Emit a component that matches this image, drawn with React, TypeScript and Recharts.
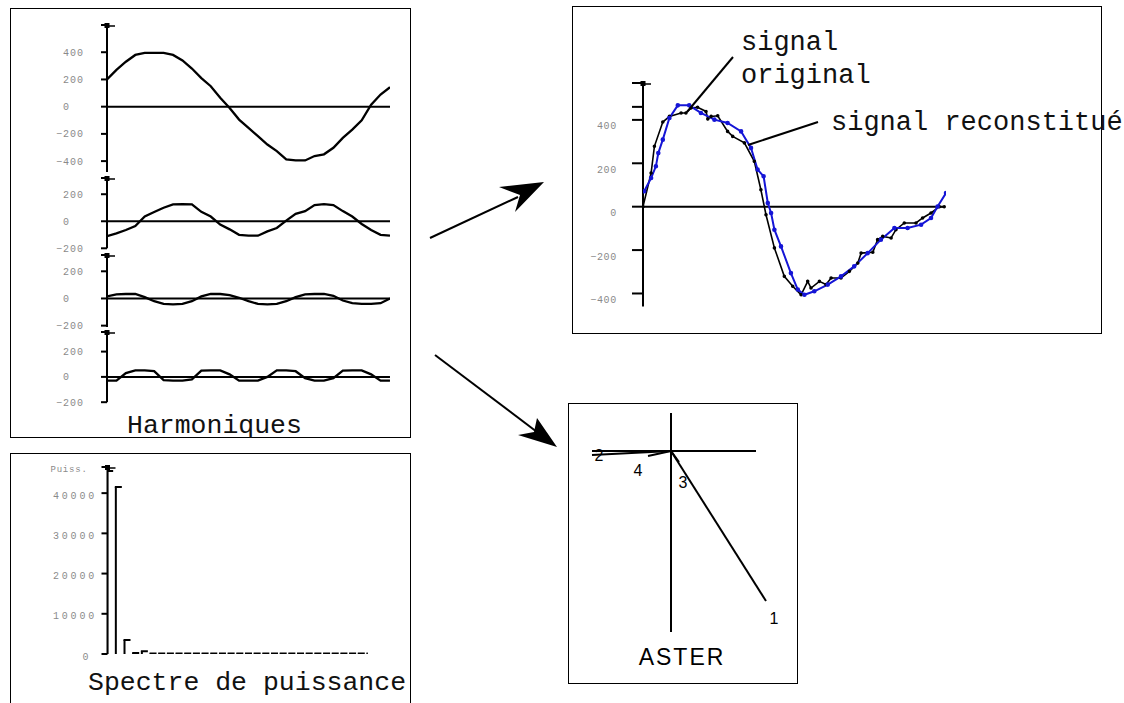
import React from "react";
import { LineChart, Line, XAxis, YAxis, ReferenceLine, BarChart, Bar } from "recharts";

// harmonics: 31 samples over one period of the fundamental
const sampleIdx = [0, 1, 2, 3, 4, 5, 6, 7, 8, 9, 10, 11, 12, 13, 14, 15, 16, 17, 18, 19, 20, 21, 22, 23, 24, 25, 26, 27, 28, 29, 30];
const harm1 = [200, 270, 330, 380, 395, 395, 395, 380, 340, 280, 210, 150, 65, -10, -95, -155, -217, -278, -327, -388, -395, -395, -363, -350, -302, -229, -168, -100, 15, 89, 143];
const harm2 = [-110, -90, -65, -35, 35, 68, 100, 125, 127, 125, 70, 35, -25, -60, -100, -107, -107, -75, -50, 5, 55, 75, 120, 127, 120, 75, 35, -20, -65, -100, -107];
const harm3 = [15, 30, 33, 33, 10, -20, -40, -43, -40, -20, 15, 33, 33, 25, 5, -20, -40, -43, -40, -20, 10, 30, 33, 33, 20, -15, -35, -40, -40, -35, 0];
const harm4 = [-30, -30, 30, 52, 52, 45, -25, -30, -30, -20, 50, 52, 52, 20, -30, -30, -30, 0, 52, 52, 45, -10, -30, -30, -10, 50, 52, 52, 20, -30, -30];

// power spectrum
const specBins = [0, 1, 2, 3, 4, 5, 6, 7, 8, 9, 10, 11, 12, 13, 14, 15, 16, 17, 18, 19, 20, 21, 22, 23, 24, 25, 26, 27, 28, 29, 30];
const specPower = [45500, 41500, 3500, 250, 700, 150, 120, 100, 100, 100, 100, 100, 100, 100, 100, 100, 100, 100, 100, 100, 100, 100, 100, 100, 100, 100, 100, 100, 100, 100, 100];
const specTicks = [0, 10000, 20000, 30000, 40000, 46500];

// original vs reconstructed signal
const origT = [0, 2.7, 3.8, 6.6, 8.8, 12.7, 14.3, 16, 18.2, 21, 21.6, 22.7, 24.9, 28.2, 29.9, 33.8, 37.1, 39.3, 41, 43.8, 47.1, 49.9, 52.7, 54.9, 56, 58.8, 61, 62.7, 66, 68.8, 71.6, 72.7, 76.6, 78.2, 79.9, 82.7, 84.3, 87.1, 91, 93.2, 96, 98.8, 100.4];
const origV = [0, 155, 278, 390, 416, 432, 432, 455, 458, 439, 404, 416, 419, 347, 324, 294, 209, 78, -37, -190, -321, -367, -406, -344, -375, -344, -359, -329, -329, -298, -260, -214, -210, -152, -137, -144, -106, -75, -75, -52, -29, 0, 0];
const reconT = [0.4, 2.7, 4.3, 5.1, 6.6, 8.8, 11.6, 15.4, 19.3, 23.8, 28.2, 32.7, 36, 38.2, 40.2, 41.6, 42.7, 43.8, 46, 49.3, 51.6, 53.8, 57.1, 61.6, 66, 70.4, 74.9, 79.3, 83.8, 88.2, 92.7, 96, 98.2, 101];
const reconV = [71, 132, 186, 247, 309, 409, 467, 467, 432, 401, 386, 347, 271, 171, 140, 17, -29, -106, -183, -306, -382, -406, -390, -359, -321, -275, -214, -152, -98, -98, -83, -52, 1, 63];
const signalTicks = [-400, -200, 0, 200, 400, 460, 570];

// ASTER phasors
const asterNames = ["1", "2", "3", "4"];
const asterX = [95, -79, 8, -23];
const asterY = [-150, -4, -11, -5];
const asterLabelDx = [8, 7, 4, -10];
const asterLabelDy = [23, 6, 26, 20];

const mono = "'Liberation Mono', 'Courier New', monospace";
const gray = "#8a8a8a";

const Marker = ({ ax, y }: { ax: number; y: number }) => (
  <g>
    <rect x={ax - 2.5} y={y - 2} width={5} height={5} fill="#000" />
    <line x1={ax} x2={ax + 8} y1={y + 1} y2={y + 1} stroke="#000" strokeWidth={1.5} />
  </g>
);

const harmTick = (max: number) => (props: any) => {
  const { x, y, payload } = props;
  const ax = x + 8;
  const v = payload.value;
  if (v === max) return <Marker ax={ax} y={y} />;
  const label = v < 0 ? "\u2212" + Math.abs(v) : String(v);
  return (
    <text x={ax - 44 - (v < 0 ? 7 : 0)} y={y + 3.5} fill={gray} fontSize={10} fontFamily={mono} letterSpacing={1}>
      {label}
    </text>
  );
};

const signalTick = (props: any) => {
  const { x, y, payload } = props;
  const ax = x + 13;
  const v = payload.value;
  if (v === 570) return <Marker ax={ax} y={y} />;
  if (v === 460) return <g />;
  const label = v < 0 ? "\u2212" + Math.abs(v) : String(v);
  return (
    <text x={ax - 26} y={y + 9.5} textAnchor="end" fill={gray} fontSize={10} fontFamily={mono} letterSpacing={0.7}>
      {label}
    </text>
  );
};

const specTick = (props: any) => {
  const { x, y, payload } = props;
  const ax = x + 8;
  const v = payload.value;
  if (v === 46500)
    return (
      <g>
        <Marker ax={ax} y={y} />
        <text x={ax - 57} y={y + 5} fill={gray} fontSize={9} fontFamily={mono} letterSpacing={0.8}>
          Puiss.
        </text>
      </g>
    );
  if (v === 0)
    return (
      <text x={ax - 25} y={y + 6.5} fill={gray} fontSize={10} fontFamily={mono}>
        0
      </text>
    );
  return (
    <text x={ax - 10.5} y={y + 5.5} textAnchor="end" fill={gray} fontSize={10} fontFamily={mono} letterSpacing={2.8}>
      {String(v)}
    </text>
  );
};

const StemShape = (p: any) => {
  const cx = p.x + p.width / 2;
  return (
    <g>
      <line x1={cx} y1={p.y} x2={cx} y2={p.y + p.height} stroke="#000" strokeWidth={2} />
      <line x1={cx - 1} y1={p.y} x2={cx + 6} y2={p.y} stroke="#000" strokeWidth={2} />
    </g>
  );
};

const harmPlots = [
  { values: harm1, top: 25, height: 147, domain: [-480, 600], ticks: [-400, -200, 0, 200, 400, 600] },
  { values: harm2, top: 178, height: 70.3, domain: [-200, 320], ticks: [-200, 0, 200, 320] },
  { values: harm3, top: 255, height: 72, domain: [-210, 320], ticks: [-200, 0, 200, 320] },
  { values: harm4, top: 332, height: 70.2, domain: [-200, 355], ticks: [-200, 0, 200, 355] },
];

const box = (left: number, top: number, width: number, height: number): React.CSSProperties => ({
  position: "absolute",
  left,
  top,
  width,
  height,
  border: "1.5px solid #000",
  boxSizing: "border-box",
});

const axisStyle = { stroke: "#000", strokeWidth: 2 };

export default function App() {
  const specData = specBins.map((b, i) => ({ bin: b, p: specPower[i] }));
  const origData = origT.map((t, i) => ({ t, v: origV[i] }));
  const reconData = reconT.map((t, i) => ({ t, v: reconV[i] }));

  return (
    <div style={{ position: "absolute", left: 0, top: 0, width: 1124, height: 703, background: "#fff", overflow: "hidden" }}>
      <div style={box(10, 8, 401, 430)} />
      <div style={box(10, 453, 401, 270)} />
      <div style={box(572, 6, 530, 328)} />
      <div style={box(568, 403, 230, 281)} />

      {harmPlots.map((h, k) => (
        <div key={k} style={{ position: "absolute", left: 10, top: h.top - 6 }}>
          <LineChart
            width={97 + 283 + 8}
            height={h.height + 18}
            data={h.values.map((v, i) => ({ i: sampleIdx[i], v }))}
            margin={{ top: 6, right: 8, bottom: 12, left: 0 }}
          >
            <XAxis dataKey="i" type="number" domain={[0, 30]} hide allowDataOverflow />
            <YAxis
              type="number"
              domain={h.domain}
              ticks={h.ticks}
              interval={0}
              allowDataOverflow
              width={97}
              axisLine={axisStyle}
              tickLine={axisStyle}
              tickSize={6}
              tickMargin={2}
              tick={harmTick(h.domain[1])}
            />
            <ReferenceLine y={0} stroke="#000" strokeWidth={2} />
            <Line dataKey="v" type="linear" stroke="#000" strokeWidth={2.3} dot={false} isAnimationActive={false} />
          </LineChart>
        </div>
      ))}

      <div style={{ position: "absolute", left: 10, top: 459 }}>
        <BarChart width={97.5 + 260.3 + 10} height={187 + 22} data={specData} margin={{ top: 8, right: 10, bottom: 14, left: 0 }}>
          <XAxis dataKey="bin" type="number" domain={[0, 30]} hide allowDataOverflow />
          <YAxis
            type="number"
            domain={[0, 46500]}
            ticks={specTicks}
            interval={0}
            allowDataOverflow
            width={97.5}
            axisLine={axisStyle}
            tickLine={axisStyle}
            tickSize={6}
            tickMargin={2}
            tick={specTick}
          />
          <Bar dataKey="p" barSize={2} shape={StemShape} isAnimationActive={false} />
        </BarChart>
      </div>

      <div style={{ position: "absolute", left: 580, top: 77 }}>
        <LineChart width={63 + 303 + 8} height={223.5 + 18} margin={{ top: 6, right: 8, bottom: 12, left: 0 }}>
          <XAxis dataKey="t" type="number" domain={[0, 101]} hide allowDataOverflow />
          <YAxis
            type="number"
            domain={[-460, 570]}
            ticks={signalTicks}
            interval={0}
            allowDataOverflow
            width={63}
            axisLine={axisStyle}
            tickLine={axisStyle}
            tickSize={11}
            tickMargin={2}
            tick={signalTick}
          />
          <ReferenceLine segment={[{ x: 0, y: 0 }, { x: 100, y: 0 }]} stroke="#000" strokeWidth={2} />
          <Line data={origData} dataKey="v" type="linear" stroke="#000" strokeWidth={1.6} dot={{ r: 1, fill: "#000", stroke: "#000" }} isAnimationActive={false} />
          <Line data={reconData} dataKey="v" type="linear" stroke="#1515d6" strokeWidth={2} dot={{ r: 1.3, fill: "#1515d6", stroke: "#1515d6" }} isAnimationActive={false} />
        </LineChart>
      </div>

      <div style={{ position: "absolute", left: 581, top: 403 }}>
        <LineChart width={206} height={250} margin={{ top: 10, right: 20, bottom: 20, left: 10 }}>
          <XAxis dataKey="x" type="number" domain={[-80, 96]} hide allowDataOverflow />
          <YAxis type="number" domain={[-182, 38]} hide allowDataOverflow />
          <ReferenceLine segment={[{ x: -79, y: 0 }, { x: 85, y: 0 }]} stroke="#000" strokeWidth={2} />
          <ReferenceLine segment={[{ x: 0, y: -181 }, { x: 0, y: 38 }]} stroke="#000" strokeWidth={2} />
          {asterNames.map((name, k) => (
            <Line
              key={name}
              data={[
                { x: 0, y: 0 },
                { x: asterX[k], y: asterY[k] },
              ]}
              dataKey="y"
              type="linear"
              stroke="#000"
              strokeWidth={2}
              dot={false}
              isAnimationActive={false}
              label={(p: any) =>
                p.index === 1 ? (
                  <text
                    key={name}
                    x={p.x + asterLabelDx[k]}
                    y={p.y + asterLabelDy[k]}
                    textAnchor="middle"
                    fontSize={16}
                    fontFamily="'Liberation Sans', Arial, sans-serif"
                    fill="#000"
                  >
                    {name}
                  </text>
                ) : (
                  <g key={name + "-o"} />
                )
              }
            />
          ))}
        </LineChart>
      </div>

      <svg width={1124} height={703} style={{ position: "absolute", left: 0, top: 0, pointerEvents: "none" }}>
        <g fill="#111" fontFamily={mono}>
          <text x={127} y={433} fontSize={26.5}>Harmoniques</text>
          <text x={88} y={690} fontSize={26.5}>Spectre de puissance</text>
          <text x={741} y={50} fontSize={27}>signal</text>
          <text x={741} y={83} fontSize={27}>original</text>
          <text x={831} y={130} fontSize={27}>signal reconstitué</text>
        </g>
        <text x={638.7} y={665} fontSize={23} letterSpacing={2} fontFamily="'Liberation Sans', Arial, sans-serif" fill="#000">
          ASTER
        </text>
        <line x1={733} y1={57} x2={687} y2={112} stroke="#000" strokeWidth={2} />
        <line x1={818} y1={122} x2={748} y2={145} stroke="#000" strokeWidth={2} />
        <line x1={430} y1={238} x2={518} y2={197} stroke="#000" strokeWidth={2} />
        <polygon points="544,182 499,187 520,195 515,212" fill="#000" />
        <line x1={435} y1={355} x2={537} y2={432} stroke="#000" strokeWidth={2} />
        <polygon points="557,447 537,418 534,432 518,435" fill="#000" />
      </svg>
    </div>
  );
}
